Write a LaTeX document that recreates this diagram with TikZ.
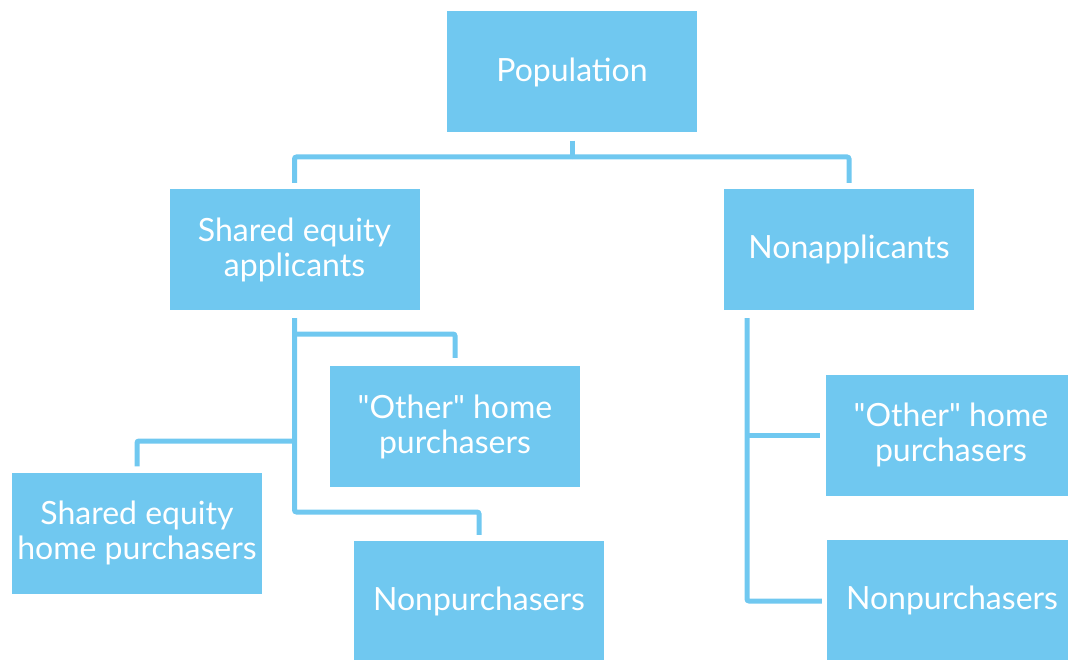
\documentclass[tikz,border=0pt]{standalone}
\usepackage{fontspec}
\setmainfont{Lato}[Ligatures=TeXOff]
\definecolor{boxblue}{HTML}{70C8F0}
\begin{document}
\begin{tikzpicture}[x=1pt,y=-1pt,
  box/.style={rectangle,fill=boxblue,draw=none,minimum width=250pt,minimum height=121pt,inner sep=0pt,
    text=white,align=center,font=\fontsize{32}{35}\selectfont},
  conn/.style={draw=boxblue,line width=5pt,rounded corners=2pt}]
\useasboundingbox (0,0) rectangle (1068,660);
\begin{scope}
\clip (0,0) rectangle (1068,660);
\node[box] (pop) at (572,72) {Population};
\node[box] (sea) at (294.5,249.5) {Shared equity\\applicants};
\node[box] (nonapp) at (849,249.5) {Nonapplicants};
\node[box] (oth1) at (455,426.5) {"Other" home\\purchasers};
\node[box] (sehp) at (137,533) {Shared equity\\home purchasers};
\node[box] (np1) at (479,601.5) {Nonpurchasers};
\node[box] (oth2) at (951,435) {"Other" home\\purchasers};
\node[box] (np2) at (952,600.5) {Nonpurchasers};
\end{scope}
% top level
\coordinate (tj) at (572,157);
\draw[conn] ([yshift=-8pt]pop.south) -- (tj);
\draw[conn] (tj) -| ([yshift=6pt]sea.north);
\draw[conn] (tj) -| ([yshift=6pt]nonapp.north);
% shared equity applicants branch
\coordinate (sj) at (294.5,512);
\draw[conn] ([yshift=-8pt]sea.south) -- (sj) -| ([yshift=6pt]np1.north);
\draw[conn] (294.5,334) -| ([yshift=8pt]oth1.north);
\draw[conn] (294.5,441) -| ([yshift=6pt]sehp.north);
% nonapplicants branch
\coordinate (nj) at (747,601);
\draw[conn] (747,318) -- (nj) -- ([xshift=-5pt]np2.west |- nj);
\draw[conn] (747,435) -- ([xshift=-6pt]oth2.west);
\end{tikzpicture}
\end{document}
